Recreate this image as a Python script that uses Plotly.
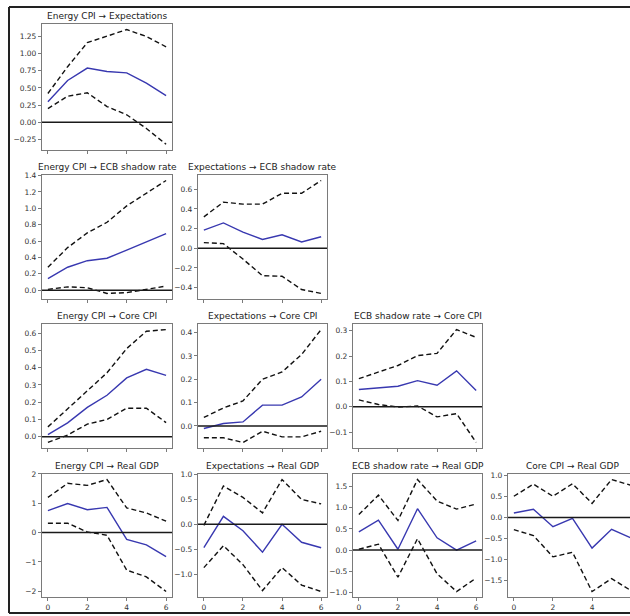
import plotly.graph_objects as go

horizon = [0, 1, 2, 3, 4, 5, 6]

# Energy CPI -> Expectations
e_exp_mid = [0.30, 0.61, 0.79, 0.74, 0.72, 0.57, 0.39]
e_exp_lo = [0.20, 0.38, 0.43, 0.23, 0.11, -0.09, -0.32]
e_exp_hi = [0.42, 0.81, 1.16, 1.25, 1.35, 1.25, 1.10]
# Energy CPI -> ECB shadow rate
e_ecb_mid = [0.14, 0.28, 0.36, 0.39, 0.49, 0.59, 0.69]
e_ecb_lo = [0.01, 0.04, 0.03, -0.04, -0.03, 0.01, 0.05]
e_ecb_hi = [0.28, 0.52, 0.70, 0.83, 1.03, 1.18, 1.34]
# Expectations -> ECB shadow rate
x_ecb_mid = [0.185, 0.258, 0.164, 0.09, 0.137, 0.064, 0.117]
x_ecb_lo = [0.057, 0.047, -0.11, -0.28, -0.285, -0.42, -0.46]
x_ecb_hi = [0.32, 0.47, 0.45, 0.45, 0.56, 0.56, 0.69]
# Energy CPI -> Core CPI
e_core_mid = [0.012, 0.08, 0.17, 0.24, 0.34, 0.39, 0.355]
e_core_lo = [-0.033, 0.01, 0.073, 0.10, 0.165, 0.165, 0.082]
e_core_hi = [0.057, 0.16, 0.265, 0.37, 0.51, 0.61, 0.62]
# Expectations -> Core CPI
x_core_mid = [-0.011, 0.01, 0.017, 0.089, 0.089, 0.124, 0.20]
x_core_lo = [-0.051, -0.051, -0.071, -0.023, -0.047, -0.047, -0.023]
x_core_hi = [0.036, 0.077, 0.107, 0.20, 0.231, 0.306, 0.413]
# ECB shadow rate -> Core CPI
r_core_mid = [0.068, 0.074, 0.081, 0.103, 0.085, 0.142, 0.064]
r_core_lo = [0.027, 0.009, -0.001, 0.003, -0.04, -0.027, -0.141]
r_core_hi = [0.111, 0.137, 0.163, 0.202, 0.211, 0.305, 0.274]
# Energy CPI -> Real GDP
e_gdp_mid = [0.75, 0.99, 0.78, 0.86, -0.23, -0.42, -0.82]
e_gdp_lo = [0.32, 0.32, 0.02, -0.09, -1.28, -1.51, -2.01]
e_gdp_hi = [1.20, 1.68, 1.61, 1.81, 0.84, 0.67, 0.39]
# Expectations -> Real GDP
x_gdp_mid = [-0.47, 0.16, -0.13, -0.56, 0.0, -0.36, -0.47]
x_gdp_lo = [-0.87, -0.43, -0.81, -1.33, -0.87, -1.22, -1.35]
x_gdp_hi = [-0.02, 0.77, 0.54, 0.23, 0.90, 0.50, 0.41]
# ECB shadow rate -> Real GDP
r_gdp_mid = [0.43, 0.71, 0.02, 0.98, 0.29, 0.0, 0.22]
r_gdp_lo = [0.02, 0.14, -0.64, 0.27, -0.56, -0.98, -0.66]
r_gdp_hi = [0.84, 1.30, 0.70, 1.67, 1.16, 0.97, 1.09]
# Core CPI -> Real GDP
c_gdp_mid = [0.11, 0.20, -0.22, -0.02, -0.73, -0.28, -0.49]
c_gdp_lo = [-0.29, -0.43, -0.94, -0.83, -1.77, -1.46, -1.75]
c_gdp_hi = [0.51, 0.80, 0.51, 0.81, 0.34, 0.91, 0.77]

titles = [
    "Energy CPI → Expectations",
    "Energy CPI → ECB shadow rate",
    "Expectations → ECB shadow rate",
    "Energy CPI → Core CPI",
    "Expectations → Core CPI",
    "ECB shadow rate → Core CPI",
    "Energy CPI → Real GDP",
    "Expectations → Real GDP",
    "ECB shadow rate → Real GDP",
    "Core CPI → Real GDP",
]

ticks_1 = ["−0.25", "0.00", "0.25", "0.50", "0.75", "1.00", "1.25"]
ticks_2 = ["0.0", "0.2", "0.4", "0.6", "0.8", "1.0", "1.2", "1.4"]
ticks_3 = ["−0.4", "−0.2", "0.0", "0.2", "0.4", "0.6"]
ticks_4 = ["0.0", "0.1", "0.2", "0.3", "0.4", "0.5", "0.6"]
ticks_5 = ["0.0", "0.1", "0.2", "0.3", "0.4"]
ticks_6 = ["−0.1", "0.0", "0.1", "0.2", "0.3"]
ticks_7 = ["−2", "−1", "0", "1", "2"]
ticks_8 = ["−1.0", "−0.5", "0.0", "0.5", "1.0"]
ticks_9 = ["−1.0", "−0.5", "0.0", "0.5", "1.0", "1.5"]
ticks_10 = ["−1.5", "−1.0", "−0.5", "0.0", "0.5", "1.0"]
x_ticks = ["0", "2", "4", "6"]

panels = [
    (e_exp_mid, e_exp_lo, e_exp_hi, ticks_1, 0, 0),
    (e_ecb_mid, e_ecb_lo, e_ecb_hi, ticks_2, 1, 0),
    (x_ecb_mid, x_ecb_lo, x_ecb_hi, ticks_3, 1, 1),
    (e_core_mid, e_core_lo, e_core_hi, ticks_4, 2, 0),
    (x_core_mid, x_core_lo, x_core_hi, ticks_5, 2, 1),
    (r_core_mid, r_core_lo, r_core_hi, ticks_6, 2, 2),
    (e_gdp_mid, e_gdp_lo, e_gdp_hi, ticks_7, 3, 0),
    (x_gdp_mid, x_gdp_lo, x_gdp_hi, ticks_8, 3, 1),
    (r_gdp_mid, r_gdp_lo, r_gdp_hi, ticks_9, 3, 2),
    (c_gdp_mid, c_gdp_lo, c_gdp_hi, ticks_10, 3, 3),
]

W, H = 630, 616
col_px = [(42, 172), (198, 327), (353, 482), (508, 637)]
row_px = [(20, 147), (172, 297), (322, 447), (473, 597)]

BLUE = "#3838b0"
SPINE = "#7a7a7a"
FONT = "DejaVu Sans"

fig = go.Figure()
layout = dict(
    width=W, height=H, margin=dict(l=0, r=0, t=0, b=0),
    paper_bgcolor="white", plot_bgcolor="white", showlegend=False,
)
shapes = []
annotations = []

for i, (mid, lo, hi, tt, r, c) in enumerate(panels, start=1):
    xa = "x" if i == 1 else f"x{i}"
    ya = "y" if i == 1 else f"y{i}"
    for vals, dash, color in ((lo, "5px,3px", "#111"), (hi, "5px,3px", "#111"), (mid, "solid", BLUE)):
        fig.add_trace(go.Scatter(
            x=horizon, y=vals, mode="lines", xaxis=xa, yaxis=ya,
            line=dict(color=color, width=1.4, dash=dash), hoverinfo="skip",
        ))
    l, rr = col_px[c]
    t, b = row_px[r]
    full_w = rr - l
    vis_r = min(rr, W)
    xr_hi = -0.3 + 6.6 * (vis_r - l) / full_w
    allv = list(mid) + list(lo) + list(hi)
    ymin, ymax = min(allv), max(allv)
    pad = 0.05 * (ymax - ymin)
    tv = [float(s.replace("−", "-")) for s in tt]
    key = "" if i == 1 else str(i)
    layout["xaxis" + key] = dict(
        domain=[l / W, vis_r / W], anchor=ya, range=[-0.3, xr_hi],
        tickvals=[float(v) for v in x_ticks], ticktext=x_ticks,
        showticklabels=(r == 3), ticks="outside", ticklen=3, tickwidth=1,
        tickcolor=SPINE, showline=True, linecolor=SPINE, linewidth=1.2,
        mirror=True, showgrid=False, zeroline=False,
        tickfont=dict(family=FONT, size=7.5, color="#333"),
    )
    layout["yaxis" + key] = dict(
        domain=[1 - b / H, 1 - t / H], anchor=xa, range=[ymin - pad, ymax + pad],
        tickvals=tv, ticktext=tt, ticks="outside", ticklen=3, tickwidth=1,
        tickcolor=SPINE, showline=True, linecolor=SPINE, linewidth=1.2,
        mirror=(c != 3), showgrid=False, zeroline=False,
        tickfont=dict(family=FONT, size=7.5, color="#333"),
    )
    shapes.append(dict(
        type="line", xref=f"{xa} domain", yref=ya, x0=0, x1=1, y0=0, y1=0,
        line=dict(color="#1a1a1a", width=1.5), layer="above",
    ))
    annotations.append(dict(
        text=titles[i - 1], xref="paper", yref="paper",
        x=((l + rr) / 2) / W, y=1 - t / H, xanchor="center", yanchor="bottom",
        yshift=1, showarrow=False, font=dict(family=FONT, size=9, color="#222"),
    ))

# screenshot frame
for x0, y0, x1, y1 in ((9, 3, 9, 613), (9, 3, W, 3), (9, 613, W, 613)):
    shapes.append(dict(
        type="line", xref="paper", yref="paper",
        x0=x0 / W, x1=x1 / W, y0=1 - y0 / H, y1=1 - y1 / H,
        line=dict(color="#222", width=2),
    ))

layout["shapes"] = shapes
layout["annotations"] = annotations
fig.update_layout(**layout)
fig.write_html(
    "out.html",
    config={"displayModeBar": False},
    post_script="document.body.style.margin='0';document.body.style.overflow='hidden';",
)
